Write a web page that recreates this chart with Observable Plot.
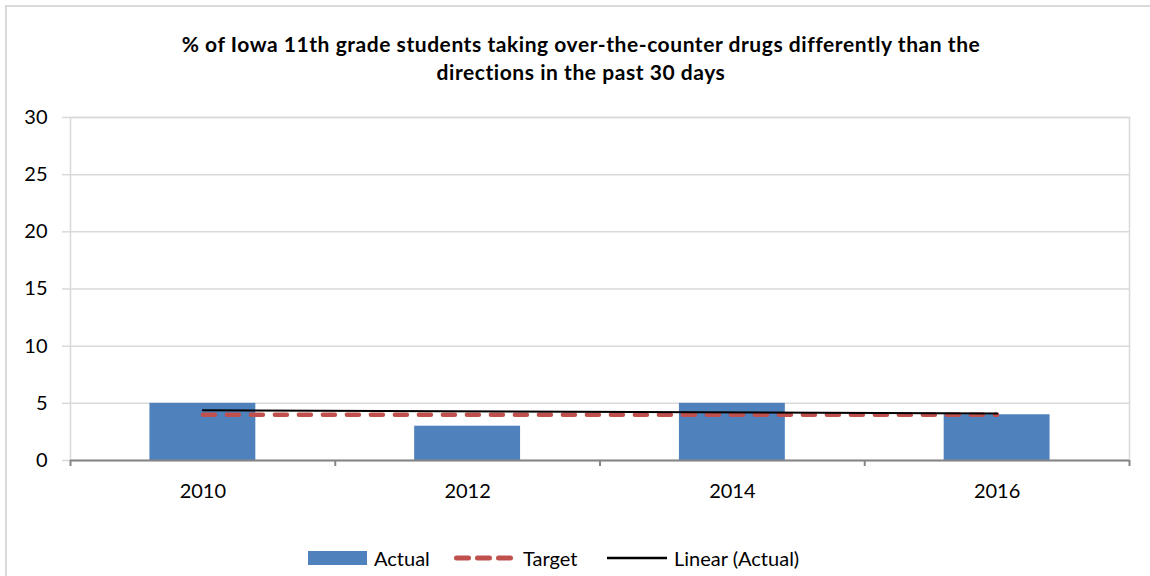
<!DOCTYPE html>
<html>
<head>
<meta charset="utf-8">
<script src="https://cdn.jsdelivr.net/npm/d3@7"></script>
<script src="https://cdn.jsdelivr.net/npm/@observablehq/plot@0.6"></script>
<style>
  html, body { margin: 0; padding: 0; background: #fff; overflow: hidden; }
  #wrap { position: relative; width: 1150px; height: 576px; overflow: hidden; font-family: Lato, "Noto Sans", sans-serif; }
  #border { position: absolute; left: 5px; top: 5px; width: 1300px; height: 700px; border: 2px solid #d9d9d9; box-sizing: border-box; }
  #title { position: absolute; left: 0; top: 30px; width: 1162px; text-align: center; font-weight: bold; font-size: 21px; letter-spacing: 0.55px; line-height: 28px; color: #000; }
  #chart { position: absolute; left: 0; top: 0; }
  #legend { position: absolute; left: 0; top: 546px; width: 1150px; height: 24px; font-size: 20px; color: #000; }
  #legend .item { position: absolute; top: 0; height: 24px; display: flex; align-items: center; }
  #legend svg { display: block; }
</style>
</head>
<body>
<div id="wrap">
  <div id="border"></div>
  <div id="chart"></div>
  <div id="title">% of Iowa 11th grade students taking over-the-counter drugs differently than the<br>directions in the past 30 days</div>
  <div id="legend"></div>
</div>
<script>
const years = ["2010", "2012", "2014", "2016"];
const actual = [5, 3, 5, 4];
const target = [4, 4, 4, 4];
const trendYears = ["2010", "2016"];
const trendValues = [4.4, 4.1];
const yTicks = [0, 5, 10, 15, 20, 25, 30];

const seriesNames = ["Actual", "Target", "Linear (Actual)"];
const colors = { actual: "#4F81BD", target: "#C0504D", trend: "#000000" };

const data = years.map((year, i) => ({ year, actual: actual[i], target: target[i] }));
const trend = trendYears.map((year, i) => ({ year, value: trendValues[i] }));

const base = {
  width: 1150,
  height: 510,
  marginLeft: 70,
  marginRight: 21,
  marginTop: 117,
  marginBottom: 50,
  style: { fontFamily: "Lato, 'Noto Sans', sans-serif", background: "transparent", overflow: "visible" },
  x: { type: "band", domain: years, paddingInner: 0.6, paddingOuter: 0.3, round: false },
  y: { domain: [0, 30] }
};

const probe = Plot.plot({ ...base, marks: [Plot.barY(data, { x: "year", y: "actual" })] });
const step = probe.scale("x").step;

const chart = Plot.plot({
  ...base,
  marks: [
    Plot.gridY(yTicks, { stroke: "#d9d9d9", strokeOpacity: 1, strokeWidth: 1.5 }),
    Plot.frame({ stroke: "#d9d9d9", strokeWidth: 1.5 }),
    Plot.axisY({ ticks: yTicks, tickSize: 8, stroke: "#d9d9d9", strokeWidth: 1.5, tickFormat: () => "", label: null }),
    Plot.axisY({ ticks: yTicks, tickSize: 0, tickPadding: 23, fontSize: 20, fill: "#000", label: null }),
    Plot.barY(data, { x: "year", y: "actual", fill: colors.actual }),
    Plot.ruleY([0], { stroke: "#868686", strokeWidth: 2 }),
    Plot.axisX({ ticks: years, tickSize: 6, dx: -step / 2, stroke: "#868686", strokeWidth: 2, tickFormat: () => "", label: null }),
    Plot.axisX({ ticks: years.slice(-1), tickSize: 6, dx: step / 2, stroke: "#868686", strokeWidth: 2, tickFormat: () => "", label: null }),
    Plot.axisX({ ticks: years, tickSize: 0, tickPadding: 23, fontSize: 20, fill: "#000", label: null }),
    Plot.lineY(data, { x: "year", y: "target", stroke: colors.target, strokeWidth: 4.5, strokeDasharray: "12,12", strokeLinecap: "round" }),
    Plot.lineY(trend, { x: "year", y: "value", stroke: colors.trend, strokeWidth: 2 })
  ]
});
document.getElementById("chart").appendChild(chart);

// Legend
const legend = document.getElementById("legend");
const swatches = [
  `<svg width="59" height="14"><rect x="0" y="0" width="59" height="14" fill="${colors.actual}"/></svg>`,
  `<svg width="59" height="10"><line x1="2.5" y1="5" x2="56.5" y2="5" stroke="${colors.target}" stroke-width="5" stroke-dasharray="12,9" stroke-linecap="round"/></svg>`,
  `<svg width="60" height="4"><line x1="0" y1="2" x2="60" y2="2" stroke="${colors.trend}" stroke-width="2.5"/></svg>`
];
const lefts = [308, 454, 607];
const textGaps = [7, 10, 7];
seriesNames.forEach((name, i) => {
  const item = document.createElement("div");
  item.className = "item";
  item.style.left = lefts[i] + "px";
  item.innerHTML = swatches[i] + `<span style="margin-left:${textGaps[i]}px">${name}</span>`;
  legend.appendChild(item);
});
</script>
</body>
</html>
